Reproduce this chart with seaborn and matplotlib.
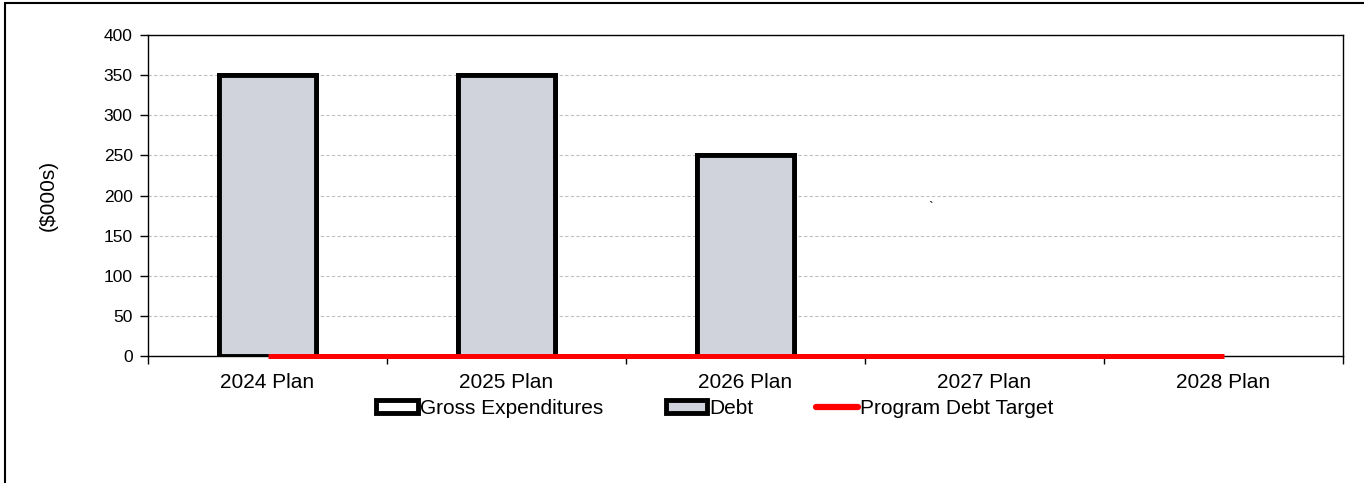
import matplotlib
matplotlib.use("Agg")
import matplotlib.pyplot as plt
import numpy as np
import pandas as pd
import seaborn as sns
from matplotlib.patches import Patch, Rectangle
from matplotlib.lines import Line2D

categories = ["2024 Plan", "2025 Plan", "2026 Plan", "2027 Plan", "2028 Plan"]
gross_expenditures = [350, 350, 250, None, None]
debt = [350, 350, 250, None, None]
debt_target = [0, 0, 0, 0, 0]


def main():
    sns.set_theme(style="white")
    plt.rcParams["font.family"] = ["Liberation Sans", "DejaVu Sans"]
    plt.rcParams.update({"text.color": "black", "axes.labelcolor": "black",
                         "xtick.color": "black", "ytick.color": "black"})

    df = pd.DataFrame({
        "category": categories,
        "gross": pd.array(gross_expenditures, dtype="Float64").astype(float),
        "debt": pd.array(debt, dtype="Float64").astype(float),
        "target": debt_target,
    })

    fig = plt.figure(figsize=(13.64, 4.83), dpi=100)
    ax = fig.add_axes([148 / 1364, 1 - 356 / 483, (1343 - 148) / 1364, (356 - 35) / 483])

    sns.barplot(data=df, x="category", y="gross", order=categories, ax=ax,
                color="white", edgecolor="black", linewidth=3.5, width=0.41,
                saturation=1, errorbar=None)
    sns.barplot(data=df, x="category", y="debt", order=categories, ax=ax,
                color="#d0d3db", edgecolor="black", linewidth=3.5, width=0.41,
                saturation=1, errorbar=None)
    ax.plot(np.arange(len(categories)), df["target"], color="#ff0000",
            linewidth=3.6, solid_capstyle="butt", zorder=5, clip_on=False)

    ax.set_xlim(-0.5, len(categories) - 0.5)
    ax.set_ylim(0, 400)
    ax.set_yticks(range(0, 401, 50))
    ax.yaxis.grid(True, color="#c0c0c0", linestyle=(0, (3, 2)), linewidth=0.8)
    ax.set_axisbelow(True)
    for s in ax.spines.values():
        s.set_color("black")
        s.set_linewidth(1)
    ax.set_xticks(np.arange(len(categories)))
    ax.set_xticklabels(categories, fontsize=15)
    ax.set_xticks(np.arange(-0.5, len(categories)), minor=True)
    ax.tick_params(axis="x", which="major", bottom=False, length=0, pad=12)
    ax.tick_params(axis="x", which="minor", bottom=True, length=6, width=1,
                   color="black", direction="out")
    ax.tick_params(axis="y", left=True, length=6, width=1, color="black",
                   direction="out", labelsize=12.5, pad=5)
    ax.set_xlabel("")
    ax.set_ylabel("($000s)", fontsize=15, labelpad=33)

    fig.text(931 / 1364, 1 - 208 / 483, "`", fontsize=10, ha="center", va="center")

    handles = [
        Patch(facecolor="white", edgecolor="black", linewidth=3.5),
        Patch(facecolor="#d0d3db", edgecolor="black", linewidth=3.5),
        Line2D([0], [0], color="#ff0000", linewidth=4.5),
    ]
    fig.legend(handles, ["Gross Expenditures", "Debt", "Program Debt Target"],
               loc="center", bbox_to_anchor=(0.524, 0.155), ncol=3, frameon=False,
               fontsize=15, handlelength=2.0, handleheight=0.6, handletextpad=0.1,
               columnspacing=3.0)

    fig.patches.append(Rectangle((5 / 1364, -0.1), 1.5, 1 - 3 / 483 + 0.1,
                                 transform=fig.transFigure, fill=False,
                                 edgecolor="black", linewidth=1.5))

    fig.savefig("out.png", dpi=100)


if __name__ == "__main__":
    main()
